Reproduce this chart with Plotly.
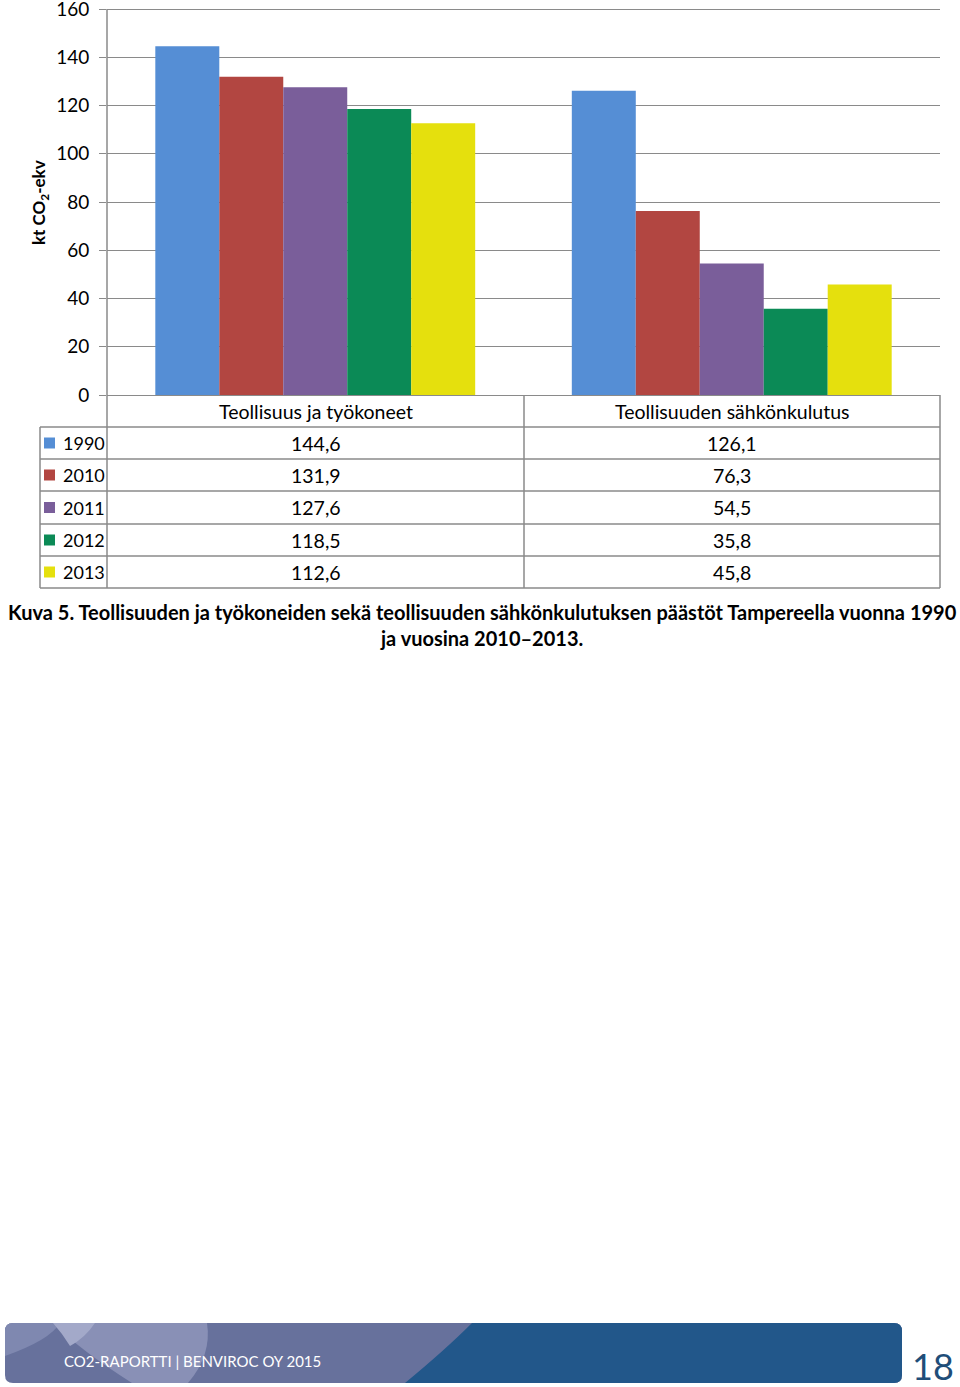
import plotly.graph_objects as go

categories = ["Teollisuus ja työkoneet", "Teollisuuden sähkönkulutus"]
years = ["1990", "2010", "2011", "2012", "2013"]
values = {
    "1990": [144.6, 126.1],
    "2010": [131.9, 76.3],
    "2011": [127.6, 54.5],
    "2012": [118.5, 35.8],
    "2013": [112.6, 45.8],
}
colors = ["#558ed5", "#b24641", "#7a5e9a", "#0b8a56", "#e5e00d"]
y_ticks = [0, 20, 40, 60, 80, 100, 120, 140, 160]
y_title = "kt CO<sub>2</sub>-ekv"
caption = ("Kuva 5. Teollisuuden ja työkoneiden sekä teollisuuden sähkönkulutuksen päästöt Tampereella vuonna 1990"
           "<br>ja vuosina 2010–2013.")
footer_text = "CO2-RAPORTTI | BENVIROC OY 2015"
page_no = "18"

W, H = 960, 1387
FONT = "Lato"
GRID = "#8a8a8a"
FS = 19.5


def px(x):
    return x / W


def py(y):
    return 1 - y / H


fig = go.Figure()
for yr, c in zip(years, colors):
    fig.add_trace(go.Bar(x=categories, y=values[yr], name=yr, marker=dict(color=c, line=dict(width=0)),
                         showlegend=False))

x0, x1, ybot = 107, 940, 395
ymax = 161.5
ytop = ybot - ymax * (386 / 160)
fig.update_layout(
    width=W, height=H, margin=dict(l=0, r=0, t=0, b=0),
    paper_bgcolor="white", plot_bgcolor="white",
    barmode="group", bargap=0.232, bargroupgap=0,
    font=dict(family=FONT, size=FS, color="#000"),
    xaxis=dict(domain=[px(x0), px(x1)], showticklabels=False, ticks="", showgrid=False,
               showline=False, zeroline=False, fixedrange=True),
    yaxis=dict(domain=[py(ybot), py(ytop)], range=[0, ymax], tickvals=y_ticks,
               ticks="outside", ticklen=7, tickcolor=GRID, tickwidth=1.3,
               ticklabelstandoff=6, ticklabeloverflow="allow",
               showgrid=True, gridcolor=GRID, gridwidth=1.3,
               showline=False,
               zeroline=True, zerolinecolor=GRID, zerolinewidth=1.3,
               tickfont=dict(size=19, family=FONT), automargin=False),
)

shapes = []
annots = []


def hline(y, xa, xb):
    shapes.append(dict(type="line", xref="paper", yref="paper", x0=px(xa), x1=px(xb), y0=py(y), y1=py(y),
                       line=dict(color=GRID, width=1.5)))


def vline(x, ya, yb):
    shapes.append(dict(type="line", xref="paper", yref="paper", x0=px(x), x1=px(x), y0=py(ya), y1=py(yb),
                       line=dict(color=GRID, width=1.5)))


# y axis line (from 160 down through the table)
shapes.append(dict(type="line", xref="paper", yref="y", x0=px(x0), x1=px(x0), y0=0, y1=160,
                   line=dict(color=GRID, width=1.5)))

row_edges = [395, 427, 459, 491, 524, 556, 588]
for y in row_edges[1:]:
    hline(y, 40, 940)
vline(40, 427, 588)
for x in (107, 524, 940):
    vline(x, 395, 588)

col_centers = [315.5, 732]
for cat, cx in zip(categories, col_centers):
    annots.append(dict(x=px(cx), y=py((row_edges[0] + row_edges[1]) / 2), xref="paper", yref="paper",
                       text=cat, showarrow=False, xanchor="center", yanchor="middle",
                       font=dict(size=FS, family=FONT)))
for i, (yr, c) in enumerate(zip(years, colors)):
    cy = (row_edges[i + 1] + row_edges[i + 2]) / 2
    shapes.append(dict(type="rect", xref="paper", yref="paper", x0=px(44), x1=px(55), y0=py(cy - 5.5),
                       y1=py(cy + 5.5), fillcolor=c, line=dict(width=0)))
    annots.append(dict(x=px(61), y=py(cy), xref="paper", yref="paper", text=yr, showarrow=False,
                       xanchor="left", yanchor="middle", font=dict(size=18, family=FONT)))
    for j, cx in enumerate(col_centers):
        annots.append(dict(x=px(cx), y=py(cy), xref="paper", yref="paper",
                           text=f"{values[yr][j]:.1f}".replace(".", ","), showarrow=False,
                           xanchor="center", yanchor="middle", font=dict(size=FS, family=FONT)))

# y-axis title
annots.append(dict(x=px(40), y=py(203), xref="paper", yref="paper", text=f"<b>{y_title}</b>", textangle=-90,
                   showarrow=False, xanchor="center", yanchor="middle", font=dict(size=17, family=FONT)))

# caption
annots.append(dict(x=px(482), y=py(625), xref="paper", yref="paper", text=f"<b>{caption}</b>",
                   showarrow=False, xanchor="center", yanchor="middle", align="center",
                   font=dict(size=20, family=FONT)))

# footer banner
fy0, fy1, fx0, fx1, r = 1323, 1383, 5, 902, 8


def rpath(xa, ya, xb, yb, rr):
    return (f"M {px(xa+rr)} {py(ya)} L {px(xb-rr)} {py(ya)} Q {px(xb)} {py(ya)} {px(xb)} {py(ya+rr)} "
            f"L {px(xb)} {py(yb-rr)} Q {px(xb)} {py(yb)} {px(xb-rr)} {py(yb)} L {px(xa+rr)} {py(yb)} "
            f"Q {px(xa)} {py(yb)} {px(xa)} {py(yb-rr)} L {px(xa)} {py(ya+rr)} Q {px(xa)} {py(ya)} {px(xa+rr)} {py(ya)} Z")


shapes.append(dict(type="path", xref="paper", yref="paper", path=rpath(fx0, fy0, fx1, fy1, r),
                   fillcolor="#67719c", line=dict(width=0), layer="above"))
# light left region
shapes.append(dict(type="path", xref="paper", yref="paper",
                   path=(f"M {px(13)} {py(fy0)} L {px(60)} {py(fy0)} Q {px(50)} {py(1340)} {px(5)} {py(1356)} "
                         f"L {px(5)} {py(1331)} Q {px(5)} {py(fy0)} {px(13)} {py(fy0)} Z"),
                   fillcolor="#7f88b0", line=dict(width=0), layer="above"))
shapes.append(dict(type="path", xref="paper", yref="paper",
                   path=(f"M {px(53)} {py(fy0)} L {px(207)} {py(fy0)} Q {px(212)} {py(1355)} {px(188)} {py(fy1)} "
                         f"L {px(132)} {py(fy1)} Q {px(80)} {py(1350)} {px(53)} {py(fy0)} Z"),
                   fillcolor="#8990b6", line=dict(width=0), layer="above"))
shapes.append(dict(type="path", xref="paper", yref="paper",
                   path=(f"M {px(53)} {py(fy0)} L {px(95)} {py(fy0)} Q {px(85)} {py(1338)} {px(70)} {py(1346)} "
                         f"Q {px(62)} {py(1333)} {px(53)} {py(fy0)} Z"),
                   fillcolor="#a3a9c9", line=dict(width=0), layer="above"))
# dark blue right part
shapes.append(dict(type="path", xref="paper", yref="paper",
                   path=(f"M {px(472)} {py(fy0)} L {px(fx1-r)} {py(fy0)} Q {px(fx1)} {py(fy0)} {px(fx1)} {py(fy0+r)} "
                         f"L {px(fx1)} {py(fy1-r)} Q {px(fx1)} {py(fy1)} {px(fx1-r)} {py(fy1)} L {px(405)} {py(fy1)} "
                         f"Q {px(445)} {py(1350)} {px(472)} {py(fy0)} Z"),
                   fillcolor="#22578a", line=dict(width=0), layer="above"))

annots.append(dict(x=px(62), y=py(1361), xref="paper", yref="paper", text=footer_text, showarrow=False,
                   xanchor="left", yanchor="middle", font=dict(size=15, family=FONT, color="white")))
annots.append(dict(x=px(933), y=py(1366), xref="paper", yref="paper", text=page_no, showarrow=False,
                   xanchor="center", yanchor="middle", font=dict(size=36, family=FONT, color="#1f4e79")))

fig.update_layout(shapes=shapes, annotations=annots)
fig.write_html("out.html")
